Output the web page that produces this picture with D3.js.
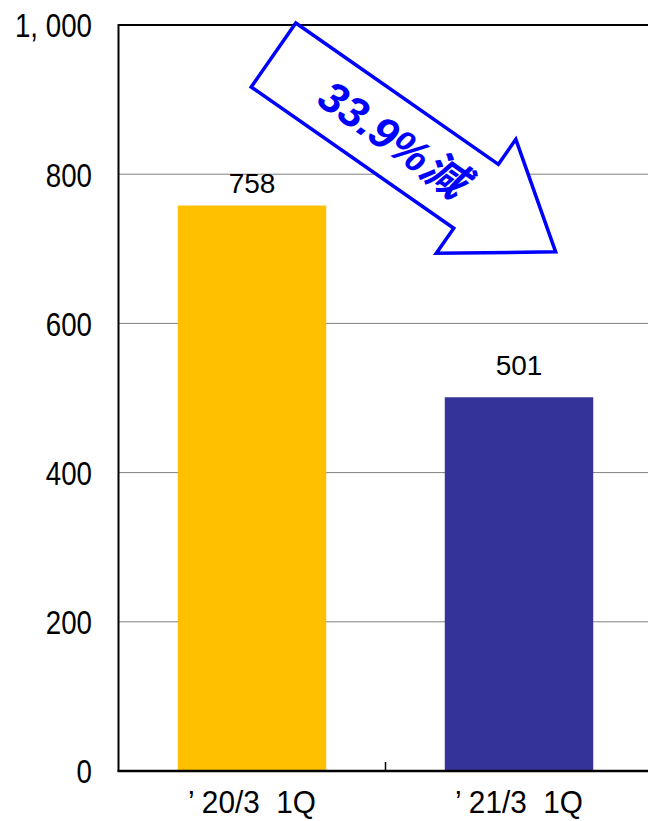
<!DOCTYPE html>
<html>
<head>
<meta charset="utf-8">
<script src="https://cdn.jsdelivr.net/npm/d3@7/dist/d3.min.js"></script>
<style>
  html, body { margin: 0; padding: 0; background: #fff; }
  svg { display: block; }
</style>
</head>
<body>
<svg id="chart" width="648" height="821"></svg>
<script>
const categories = ["’ 20/3  1Q", "’ 21/3  1Q"];
const values = [758, 501];
const barColors = ["#FFC000", "#333399"];
const yTicks = [0, 200, 400, 600, 800, 1000];
const yTickLabels = ["0", "200", "400", "600", "800", "1, 000"];
const annotationText = "33.9%減";

(function () {
const svg = d3.select("#chart");
const W = 648, H = 821;
const mLeft = 118.5, mRight = 652.5, mTop = 25, mBottom = 771;
const narrow = 0.84, catNarrow = 0.93;

const x = d3.scaleBand().domain(categories).range([mLeft, mRight])
  .paddingInner(0.444).paddingOuter(0.222);
const y = d3.scaleLinear().domain([0, 1000]).range([mBottom, mTop]);

const tickFont = "'Liberation Sans', Arial, sans-serif";

// gridlines
svg.append("g").selectAll("line").data(yTicks.filter(t => t > 0 && t < 1000)).join("line")
  .attr("x1", mLeft).attr("x2", W)
  .attr("y1", d => y(d)).attr("y2", d => y(d))
  .attr("stroke", "#808080").attr("stroke-width", 1);

// bars
svg.append("g").selectAll("rect").data(values).join("rect")
  .attr("x", (d, i) => x(categories[i]))
  .attr("width", x.bandwidth())
  .attr("y", d => y(d))
  .attr("height", d => y(0) - y(d))
  .attr("fill", (d, i) => barColors[i]);

// frame: top and left
svg.append("line").attr("x1", mLeft).attr("x2", W).attr("y1", y(1000)).attr("y2", y(1000))
  .attr("stroke", "#000").attr("stroke-width", 2);
svg.append("line").attr("x1", mLeft).attr("x2", mLeft).attr("y1", y(1000) - 1).attr("y2", y(0))
  .attr("stroke", "#000").attr("stroke-width", 2);

// x axis
const xAxis = d3.axisBottom(x).tickSize(0).tickFormat("");
const gx = svg.append("g").attr("transform", `translate(0,${y(0)})`).call(xAxis);
gx.select(".domain").remove();
svg.append("line").attr("x1", mLeft - 1).attr("x2", W).attr("y1", y(0)).attr("y2", y(0))
  .attr("stroke", "#000").attr("stroke-width", 2.5);
// category separator ticks
const step = x.step();
const seps = categories.slice(1).map(c => x(c) - x.paddingInner() * step / 2);
svg.append("g").selectAll("line").data(seps).join("line")
  .attr("x1", d => d).attr("x2", d => d)
  .attr("y1", y(0)).attr("y2", y(0) - 9)
  .attr("stroke", "#000").attr("stroke-width", 1.5);

// category labels (condensed)
svg.append("g").selectAll("text").data(categories).join("text")
  .attr("transform", d => `translate(${x(d) + x.bandwidth() / 2},813) scale(${catNarrow},1)`)
  .attr("text-anchor", "middle")
  .style("white-space", "pre")
  .attr("font-family", tickFont)
  .attr("font-size", 32)
  .attr("fill", "#000")
  .text(d => d);

// y tick labels (condensed)
const yAxis = d3.axisLeft(y).tickValues(yTicks).tickSize(0).tickPadding(0)
  .tickFormat((d, i) => yTickLabels[i]);
const gy = svg.append("g").attr("transform", `translate(${mLeft},0)`).call(yAxis);
gy.select(".domain").remove();
gy.selectAll("text")
  .attr("x", -26.5 / narrow)
  .attr("transform", `scale(${narrow},1)`)
  .attr("font-family", tickFont)
  .attr("font-size", 33)
  .attr("fill", "#000")
  .attr("dy", "0.36em");

// value labels
const labelGap = [13, 22];
svg.append("g").selectAll("text").data(values).join("text")
  .attr("x", (d, i) => x(categories[i]) + x.bandwidth() / 2)
  .attr("y", (d, i) => y(d) - labelGap[i])
  .attr("text-anchor", "middle")
  .attr("font-family", "'Liberation Sans', Arial, sans-serif")
  .attr("font-size", 28)
  .attr("fill", "#000")
  .text(d => d);

// arrow annotation
const shaftLen = 247, shaftHalf = 39, headHalf = 69.5, tipLen = 344;
const arrowPts = [
  [0, -shaftHalf], [shaftLen, -shaftHalf], [shaftLen, -headHalf], [tipLen, 0],
  [shaftLen, headHalf], [shaftLen, shaftHalf], [0, shaftHalf]
];
const ag = svg.append("g").attr("transform", "translate(273.5,55) rotate(34.9)");
ag.append("polygon")
  .attr("points", arrowPts.map(p => p.join(",")).join(" "))
  .attr("fill", "#fff")
  .attr("stroke", "#0000FF")
  .attr("stroke-width", 3.5)
  .attr("stroke-linejoin", "miter");
ag.append("text")
  .attr("x", 146).attr("y", 0)
  .attr("dy", "0.36em")
  .attr("text-anchor", "middle")
  .attr("font-family", "'Liberation Sans', Arial, 'Noto Sans CJK JP', sans-serif")
  .attr("font-weight", "bold")
  .attr("font-style", "italic")
  .attr("font-size", 44)
  .attr("fill", "#0000FF")
  .text(annotationText);
})();
</script>
</body>
</html>
